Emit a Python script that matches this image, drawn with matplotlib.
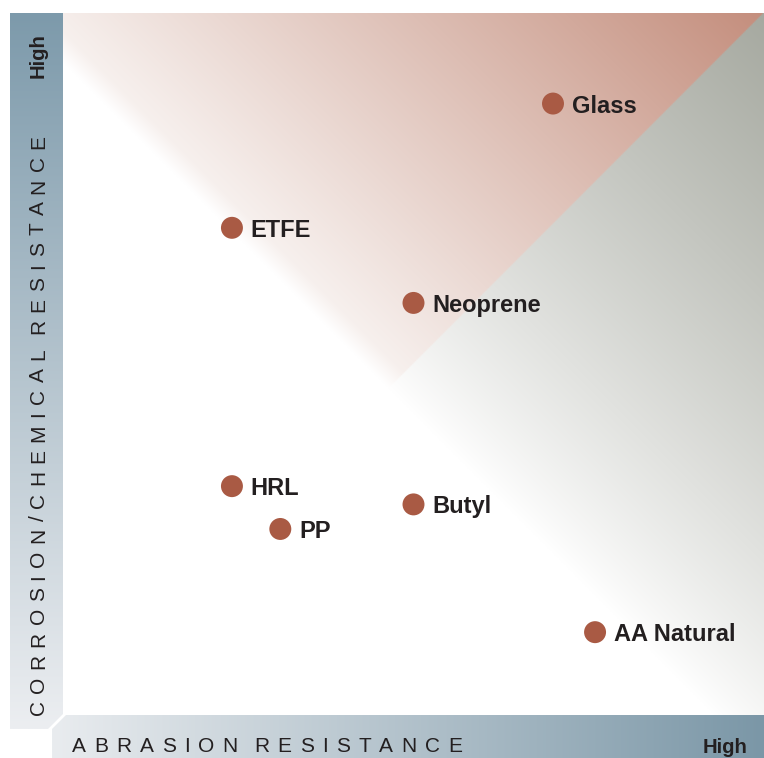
import numpy as np
import matplotlib
matplotlib.use('Agg')
import matplotlib.pyplot as plt
from matplotlib.patches import Polygon
from matplotlib.colors import to_rgb

plt.rcParams['font.family'] = ['Liberation Sans', 'DejaVu Sans']

# data: position on the two resistance scales (0 = low, 100 = high)
materials = ['Glass', 'ETFE', 'Neoprene', 'HRL', 'PP', 'Butyl', 'AA Natural']
abrasion = [69.9, 24.1, 50.0, 24.1, 31.0, 50.0, 75.9]
corrosion = [87.1, 69.4, 58.7, 32.6, 26.5, 30.0, 11.8]

W, H = 764, 758
fig = plt.figure(figsize=(W / 100, H / 100), dpi=100)

# background axes in pixel units for the scale bars and labels
bg = fig.add_axes([0, 0, 1, 1])
bg.set_xlim(0, W)
bg.set_ylim(H, 0)
bg.axis('off')


def grad_bar(poly, c_start, c_end, vertical):
    a = np.array(to_rgb(c_start))
    b = np.array(to_rgb(c_end))
    t = np.linspace(0, 1, 256)
    img = a + (b - a) * t[:, None]
    if vertical:
        img = img[:, None, :]
    else:
        img = img[None, :, :]
    xs = [p[0] for p in poly]
    ys = [p[1] for p in poly]
    im = bg.imshow(img, extent=(min(xs), max(xs), max(ys), min(ys)),
                   aspect='auto', interpolation='bilinear', zorder=1)
    patch = Polygon(poly, closed=True, transform=bg.transData, facecolor='none', edgecolor='none')
    bg.add_patch(patch)
    im.set_clip_path(patch)


grad_bar([(10, 13), (63, 13), (63, 714), (48, 729), (10, 729)], '#7d9aab', '#eceef1', True)
grad_bar([(52, 729), (66, 715), (764, 715), (764, 758), (52, 758)], '#e9ecef', '#7b97a7', False)


def tracked(x, y, s, length, rot=0, **kw):
    r = fig.canvas.get_renderer()
    texts = [bg.text(0, 0, ch, rotation=rot, rotation_mode='anchor',
                     ha='left', va='baseline', zorder=3, **kw) for ch in s]
    widths = []
    for t, ch in zip(texts, s):
        bb = t.get_window_extent(r)
        widths.append(0 if ch == ' ' else (bb.width if rot == 0 else bb.height))
    gap = (length - sum(widths)) / (len(s) - 1)
    pos = 0
    for t, ch, w in zip(texts, s, widths):
        if ch == ' ':
            t.remove()
        elif rot == 0:
            t.set_position((x + pos, y))
        else:
            t.set_position((x, y - pos))
        pos += w + gap


tracked(72, 752, 'ABRASION RESISTANCE', 390, fontsize=15, color='#231f20')
tracked(44, 715, 'CORROSION/CHEMICAL RESISTANCE', 580, rot=90, fontsize=15, color='#231f20')
bg.text(748, 753, 'High', ha='right', va='baseline', fontsize=14.6,
        fontweight='bold', color='#231f20', zorder=3)
bg.text(44, 33, 'High', rotation=90, rotation_mode='anchor', ha='right', va='baseline',
        fontsize=14.6, fontweight='bold', color='#231f20', zorder=3)

# plot area
ax = fig.add_axes([63 / W, (H - 715) / H, 701 / W, 702 / H])
ax.set_xlim(0, 100)
ax.set_ylim(0, 100)
ax.axis('off')

n = 500
u, v = np.meshgrid(np.linspace(0, 100, n), np.linspace(0, 100, n))
t = np.clip((u + v - 93) / 107, 0, 1)
white = np.array([1.0, 1.0, 1.0])
pink0 = np.array(to_rgb('#f9f4f2'))
red1 = np.array(to_rgb('#c48e7d'))
grey1 = np.array(to_rgb('#a6a9a0'))
tg = t ** 0.85
ramp = np.clip(t / 0.04, 0, 1)[..., None]
red_img = white + (pink0 - white) * ramp + (red1 - pink0) * t[..., None]
grey_img = white + (grey1 - white) * tg[..., None]
img = np.where((v > u)[..., None], red_img, grey_img)
ax.imshow(img, extent=(0, 100, 0, 100), origin='lower', aspect='auto',
          interpolation='bilinear', zorder=0)

ax.scatter(abrasion, corrosion, s=250, color='#a95a44', edgecolors='none', zorder=3)
for name, xa, yc in zip(materials, abrasion, corrosion):
    ax.annotate(name, (xa, yc), xytext=(13.5, 0), textcoords='offset points',
                ha='left', va='center_baseline', fontsize=17, fontweight='bold',
                color='#231f20', zorder=4)

fig.savefig('out.png', dpi=100)
